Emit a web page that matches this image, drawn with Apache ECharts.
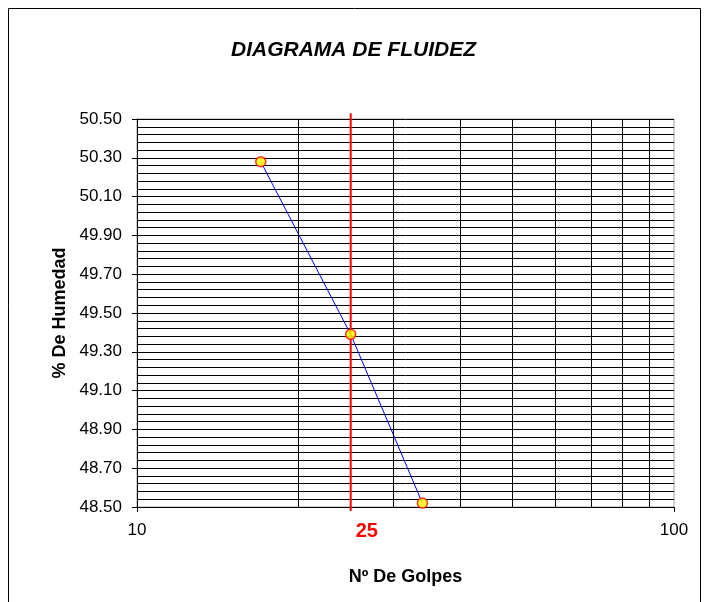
<!DOCTYPE html>
<html>
<head>
<meta charset="utf-8">
<script src="https://cdn.jsdelivr.net/npm/echarts@6/dist/echarts.min.js"></script>
<style>
  html, body { margin: 0; padding: 0; background: #fff; }
  #chart { width: 707px; height: 602px; }
</style>
</head>
<body>
<div id="chart"></div>
<script>
// ---- data ----
var titleText = 'DIAGRAMA DE FLUIDEZ';
var xTitle = 'Nº De Golpes';
var yTitle = '% De Humedad';
var golpes = [17, 25, 34];
var humedad = [50.28, 49.39, 48.52];
var gridX = [20, 30, 40, 50, 60, 70, 80, 90];
var limiteGolpes = 25;
var limiteLine = [50.53, 48.48];
var yMin = 48.5, yMax = 50.5, yStep = 0.2;
var xMin = 10, xMax = 100;

var chart = echarts.init(document.getElementById('chart'));
var font = 'Arial, "Liberation Sans", sans-serif';

var pts = golpes.map(function (g, i) { return [g, humedad[i]]; });

chart.setOption({
  animation: false,
  backgroundColor: '#fff',
  title: {
    text: titleText,
    left: 'center',
    top: 35,
    textStyle: { fontFamily: font, fontSize: 21, fontWeight: 'bold', fontStyle: 'italic', color: '#000' }
  },
  graphic: [{
    type: 'rect',
    shape: { x: 8.5, y: 8.5, width: 692, height: 620 },
    style: { fill: 'none', stroke: '#000', lineWidth: 1 },
    silent: true
  }],
  grid: {
    left: 137, top: 119, width: 537, height: 388,
    show: true, borderColor: '#a0a0a0', borderWidth: 1, backgroundColor: 'transparent'
  },
  xAxis: {
    type: 'log', logBase: 10, min: xMin, max: xMax,
    name: xTitle, nameLocation: 'middle', nameGap: 61,
    nameTextStyle: { fontFamily: font, fontSize: 18, fontWeight: 'bold', color: '#000' },
    axisLine: { show: true, lineStyle: { color: '#000', width: 1 } },
    axisTick: { show: true, length: 5, lineStyle: { color: '#000' } },
    axisLabel: { fontFamily: font, fontSize: 17, color: '#000', margin: 15 },
    splitLine: { show: false }
  },
  yAxis: {
    type: 'value', min: yMin, max: yMax, interval: yStep,
    name: yTitle, nameLocation: 'middle', nameGap: 68,
    nameTextStyle: { fontFamily: font, fontSize: 18, fontWeight: 'bold', color: '#000' },
    axisLine: { show: true, lineStyle: { color: '#000', width: 1 } },
    axisTick: { show: true, length: 5, lineStyle: { color: '#000' } },
    axisLabel: { fontFamily: font, fontSize: 17, color: '#000', margin: 15,
      formatter: function (v) { return v.toFixed(2); } },
    splitLine: { show: true, lineStyle: { color: '#000', width: 1 } },
    minorTick: { show: false, splitNumber: 5 },
    minorSplitLine: { show: true, lineStyle: { color: '#000', width: 1 } }
  },
  series: [
    {
      type: 'line',
      data: pts,
      symbol: 'none',
      lineStyle: { color: '#0000ff', width: 1 },
      z: 3,
      markLine: {
        silent: true,
        symbol: ['none', 'none'],
        label: { show: false },
        lineStyle: { color: '#000', width: 1, type: 'solid' },
        data: gridX.map(function (v) { return { xAxis: v }; })
      }
    },
    {
      type: 'line',
      data: [[limiteGolpes, limiteLine[0]], [limiteGolpes, limiteLine[1]]],
      clip: false,
      symbol: 'none',
      lineStyle: { color: '#ff0000', width: 2 },
      z: 4,
      label: { show: false },
      endLabel: {
        show: true,
        formatter: String(limiteGolpes),
        color: '#ff0000', fontFamily: font, fontSize: 20, fontWeight: 'bold',
        offset: [-3, 21]
      }
    },
    {
      type: 'scatter',
      data: pts,
      symbol: 'circle',
      symbolSize: 10,
      itemStyle: { color: '#ffff00', borderColor: '#ff0000', borderWidth: 1.5 },
      z: 5
    }
  ]
});
</script>
</body>
</html>
